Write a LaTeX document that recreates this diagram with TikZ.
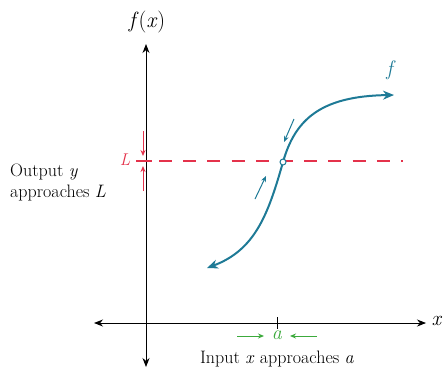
\documentclass[tikz,border=0pt]{standalone}
\usepackage{fontspec}
\usetikzlibrary{arrows.meta}
\definecolor{teal1}{RGB}{30,122,150}
\definecolor{red1}{RGB}{228,50,75}
\definecolor{green1}{RGB}{60,170,60}
\begin{document}
\begin{tikzpicture}[x=1pt,y=-1pt,
  axis/.style={line width=0.9pt,-{Stealth[length=9pt,width=7pt]}},
  curve/.style={teal1,line width=2pt},
  smallarr/.style={line width=1pt,-{Stealth[length=6pt,width=5pt]}},
  lbl/.style={font=\fontsize{18}{21}\selectfont},
  big/.style={font=\fontsize{21}{24}\selectfont},
  ]
\path[use as bounding box] (0,0) rectangle (443,370);
% axes
\coordinate (yt) at (146,44);
\coordinate (yb) at (146,367);
\coordinate (xl) at (94,323);
\coordinate (xr) at (426,323);
\coordinate (o) at (146,323);
\draw[axis] (o) -- (yt);
\draw[axis] (o) -- (yb);
\draw[axis] (o) -- (xl);
\draw[axis] (o) -- (xr);
\node[font=\fontsize{22}{25}\selectfont] (fx) at (147,22) {\textit{f}(\textit{x})};
\node[big] (xlab) at (437,321) {\textit{x}};
% tick at a
\coordinate (ta) at (277,317);
\coordinate (tb) at (277,329);
\draw[line width=0.9pt] (ta) -- (tb);
\node[green1,font=\fontsize{20}{22}\selectfont] (a) at (277,335) {\textit{a}};
\coordinate (ga1) at (237,336);
\coordinate (ga2) at (264,336);
\coordinate (gb1) at (317,336);
\coordinate (gb2) at (290,336);
\draw[green1,smallarr] (ga1) -- (ga2);
\draw[green1,smallarr] (gb1) -- (gb2);
\node[lbl] (inp) at (277,359) {Input \textit{x} approaches \textit{a}};
% red dashed line
\coordinate (r0) at (136,161);
\coordinate (r00) at (152,161);
\coordinate (r1) at (159,161);
\coordinate (r2) at (403,161);
\draw[red1,line width=2pt] (r0) -- (r00);
\draw[red1,line width=2pt,dash pattern=on 13pt off 11.2pt] (r1) -- (r2);
\node[red1,font=\fontsize{17}{20}\selectfont] (L) at (125,160) {\textit{L}};
\coordinate (ra1) at (143,131);
\coordinate (ra2) at (143,156);
\coordinate (rb1) at (143,191);
\coordinate (rb2) at (143,166);
\draw[red1,smallarr] (ra1) -- (ra2);
\draw[red1,smallarr] (rb1) -- (rb2);
\node[lbl,align=left,anchor=west,inner sep=0pt] (out) at (10,182) {Output \textit{y}\\approaches \textit{L}};
% curve
\coordinate (c0) at (283,162);
\coordinate (cl) at (207,268);
\coordinate (cr) at (394,95);
\draw[curve,-{Stealth[length=11pt,width=9pt]}] (c0) .. controls (268,215) and (255,250) .. (cl);
\draw[curve,-{Stealth[length=11pt,width=9pt]}] (c0) .. controls (295,120) and (320,96) .. (cr);
\node[circle,draw=teal1,fill=white,line width=1pt,inner sep=0pt,minimum size=6pt] (hole) at (c0) {};
\node[teal1,big] (f) at (391,70) {\textit{f}};
\coordinate (ta1) at (294,119);
\coordinate (ta2) at (284,142);
\coordinate (tb1) at (255,199);
\coordinate (tb2) at (266,176);
\draw[teal1,smallarr] (ta1) -- (ta2);
\draw[teal1,smallarr] (tb1) -- (tb2);
\end{tikzpicture}
\end{document}
